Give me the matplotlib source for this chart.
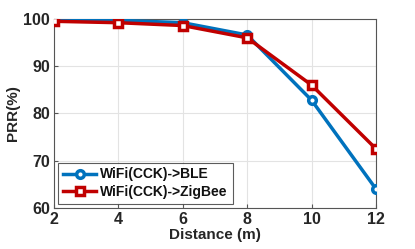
import numpy as np
import matplotlib
matplotlib.use('Agg')
import matplotlib.pyplot as plt

distance = [2, 4, 6, 8, 10, 12]
prr_ble = [99.8, 99.7, 99.2, 96.6, 82.8, 64.0]
prr_zigbee = [99.5, 99.2, 98.6, 96.0, 86.0, 72.5]
labels = ['WiFi(CCK)->BLE', 'WiFi(CCK)->ZigBee']

plt.rcParams['font.family'] = ['Liberation Sans', 'DejaVu Sans']
plt.rcParams['font.weight'] = 'bold'
plt.rcParams['font.size'] = 11.5

fig = plt.figure(figsize=(4.15, 2.49), dpi=100)
ax = fig.add_axes([0.130, 0.165, 0.776, 0.759])

ax.plot(distance, prr_ble, color='#0072BD', lw=2.5, marker='o', ms=5.5,
        mfc='white', mec='#0072BD', mew=2.5, label=labels[0], zorder=3)
ax.plot(distance, prr_zigbee, color='#C00000', lw=2.5, marker='s', ms=5.5,
        mfc='white', mec='#C00000', mew=2.5, label=labels[1], zorder=3)

ax.set_xlim(2, 12)
ax.set_ylim(60, 100)
ax.set_xticks(distance)
ax.set_yticks([60, 70, 80, 90, 100])
ax.grid(True, color='#e3e3e3', lw=0.8)
ax.tick_params(direction='in', length=3, color='#555555', labelcolor='#262626', pad=3)
for s in ax.spines.values():
    s.set_color('#555555')
    s.set_linewidth(0.8)

ax.set_xlabel('Distance (m)', fontweight='bold', color='#262626', labelpad=1, fontsize=11)
ax.set_ylabel('PRR(%)', fontweight='bold', color='#262626', labelpad=2, fontsize=11)

leg = ax.legend(loc='lower left', frameon=True, fancybox=False, borderpad=0.35,
                handlelength=2.4, handletextpad=0.3, labelspacing=0.25,
                borderaxespad=0.3, fontsize=10)
leg.get_frame().set_edgecolor('#333333')
leg.get_frame().set_linewidth(0.8)
for t in leg.get_texts():
    t.set_color('#111111')

fig.savefig('out.png', dpi=100)
